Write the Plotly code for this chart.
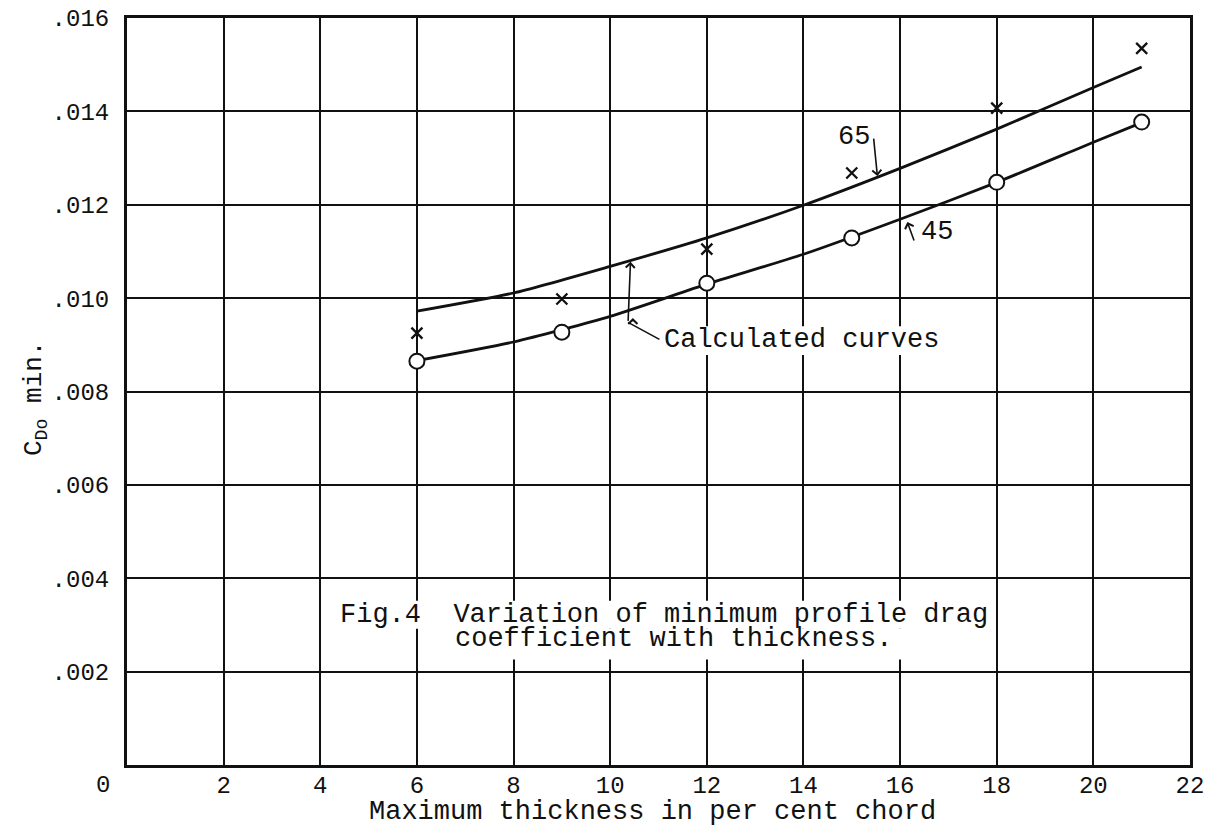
import numpy as np
import plotly.graph_objects as go

# ---- data ----
thickness = [6, 9, 12, 15, 18, 21]
cd_65_exp = [0.00925, 0.00998, 0.01105, 0.01268, 0.01407, 0.01535]
cd_45_exp = [0.00865, 0.00927, 0.01032, 0.01129, 0.01248, 0.01377]

calc_x = [6, 8, 10, 12, 14, 16, 18, 20, 21]
calc_65 = [0.00972, 0.01011, 0.01068, 0.01129, 0.01199, 0.01278, 0.01362, 0.01451, 0.01495]
calc_45 = [0.00866, 0.00906, 0.00961, 0.01030, 0.01094, 0.01169, 0.01248, 0.01334, 0.01376]

x_ticks = [2, 4, 6, 8, 10, 12, 14, 16, 18, 20, 22]
x_tick_text = ["2", "4", "6", "8", "10", "12", "14", "16", "18", "20", "22"]
y_ticks = [0.002, 0.004, 0.006, 0.008, 0.010, 0.012, 0.014, 0.016]
y_tick_text = [".002", ".004", ".006", ".008", ".010", ".012", ".014", ".016"]

FONT = "Liberation Mono"
INK = "#111111"

fig = go.Figure()

fig.add_trace(go.Scatter(x=calc_x, y=calc_65, mode="lines", line=dict(color=INK, width=2.8, shape="spline", smoothing=0.6),
                         showlegend=False, hoverinfo="skip"))
fig.add_trace(go.Scatter(x=calc_x, y=calc_45, mode="lines", line=dict(color=INK, width=2.8, shape="spline", smoothing=0.6),
                         showlegend=False, hoverinfo="skip"))
fig.add_trace(go.Scatter(x=thickness, y=cd_65_exp, mode="markers",
                         marker=dict(symbol="x-thin", size=11, line=dict(color=INK, width=2.3)),
                         showlegend=False))
fig.add_trace(go.Scatter(x=thickness, y=cd_45_exp, mode="markers",
                         marker=dict(symbol="circle", size=15, color="white", line=dict(color=INK, width=2)),
                         showlegend=False))

def up(xv, curve):
    return float(np.interp(xv, calc_x, curve))

ann = []
txt = dict(family=FONT, size=27, color=INK)

# Caption (white strips behind each line interrupt the grid)
shapes = [
    dict(type="rect", xref="x", yref="y", x0=4.3, x1=17.85, y0=0.00292, y1=0.00352,
         fillcolor="white", line=dict(width=0), layer="between"),
    dict(type="rect", xref="x", yref="y", x0=6.65, x1=16.5, y0=0.00226, y1=0.00292,
         fillcolor="white", line=dict(width=0), layer="between"),
    dict(type="rect", xref="x", yref="y", x0=11.0, x1=16.75, y0=0.00878, y1=0.00940,
         fillcolor="white", line=dict(width=0), layer="between"),
]
ann.append(dict(x=4.37, y=0.00322, xref="x", yref="y", xanchor="left", yanchor="middle",
                text="Fig.4\u00a0\u00a0Variation of minimum profile drag", showarrow=False,
                font=txt))
ann.append(dict(x=6.75, y=0.00270, xref="x", yref="y", xanchor="left", yanchor="middle",
                text="coefficient with thickness.", showarrow=False,
                font=txt))

# Calculated curves label and leaders
xa = 10.42
ann.append(dict(x=xa, y=up(xa, calc_65) - 0.00003, xref="x", yref="y",
                ax=xa - 0.05, ay=0.00948, axref="x", ayref="y",
                showarrow=True, arrowhead=4, arrowsize=1.1, arrowwidth=1.6, arrowcolor=INK, text=""))
ann.append(dict(x=xa + 0.05, y=up(xa, calc_45) - 0.00018, xref="x", yref="y",
                ax=xa + 0.05, ay=up(xa, calc_45) - 0.00028, axref="x", ayref="y",
                showarrow=True, arrowhead=4, arrowsize=1.1, arrowwidth=1.6, arrowcolor=INK, text=""))
ann.append(dict(x=11.08, y=0.0091, xref="x", yref="y", xanchor="left", yanchor="middle",
                text="Calculated curves", font=txt, showarrow=False))
ann.append(dict(x=xa - 0.05, y=0.00948, xref="x", yref="y",
                ax=11.05, ay=0.0091, axref="x", ayref="y",
                showarrow=True, arrowhead=0, arrowwidth=1.6, arrowcolor=INK, text=""))

# 65 label
ann.append(dict(x=15.05, y=0.01345, xref="x", yref="y", text="65", showarrow=False,
                xanchor="center", yanchor="middle", font=txt))
x65 = 15.53
ann.append(dict(x=x65, y=up(x65, calc_65) + 0.00002, xref="x", yref="y",
                ax=15.45, ay=0.01345, axref="x", ayref="y",
                showarrow=True, arrowhead=4, arrowsize=1.1, arrowwidth=1.6, arrowcolor=INK, text=""))

# 45 label
ann.append(dict(x=16.77, y=0.01142, xref="x", yref="y", text="45", showarrow=False,
                xanchor="center", yanchor="middle", font=txt))
x45 = 16.15
ann.append(dict(x=x45, y=up(x45, calc_45) - 0.00012, xref="x", yref="y",
                ax=16.3, ay=0.0112, axref="x", ayref="y",
                showarrow=True, arrowhead=4, arrowsize=1.1, arrowwidth=1.6, arrowcolor=INK, text=""))

# origin label
ann.append(dict(x=0, y=0, xref="x", yref="paper", xshift=-24, yshift=-20, text="0",
                xanchor="center", yanchor="middle", showarrow=False,
                font=dict(family=FONT, size=24, color=INK)))

# axis titles
ann.append(dict(x=10.87, y=0, xref="x", yref="paper", yshift=-47, xanchor="center", yanchor="middle",
                text="Maximum thickness in per cent chord", showarrow=False,
                font=dict(family=FONT, size=27, color=INK)))
ann.append(dict(x=-0.0865, y=0.49, xref="paper", yref="paper", textangle=-90,
                xanchor="center", yanchor="middle",
                text="C<sub>Do</sub> min.", showarrow=False,
                font=dict(family=FONT, size=26, color=INK)))

fig.update_layout(
    width=1206, height=835,
    margin=dict(l=127, r=16, t=18, b=70, autoexpand=False),
    paper_bgcolor="white", plot_bgcolor="white",
    annotations=ann, shapes=shapes,
    xaxis=dict(range=[0, 22], tickvals=x_ticks, ticktext=x_tick_text,
               showgrid=True, gridcolor=INK, gridwidth=2,
               showline=True, linecolor=INK, linewidth=3, mirror=True,
               zeroline=False, ticks="", ticklen=0, ticklabelstandoff=-4, automargin=False,
               ticklabeloverflow="allow",
               tickfont=dict(family=FONT, size=24, color=INK)),
    yaxis=dict(range=[0, 0.016], tickvals=y_ticks, ticktext=y_tick_text,
               showgrid=True, gridcolor=INK, gridwidth=2,
               showline=True, linecolor=INK, linewidth=3, mirror=True,
               zeroline=False, ticks="", ticklen=0, ticklabelstandoff=10, automargin=False,
               ticklabeloverflow="allow",
               tickfont=dict(family=FONT, size=24, color=INK)),
)

# remove the browser's default page margin so the figure fills the window exactly
fig.write_html("out.html", config={"displayModeBar": False},
               post_script="document.body.style.margin='0';document.body.style.overflow='hidden';")
